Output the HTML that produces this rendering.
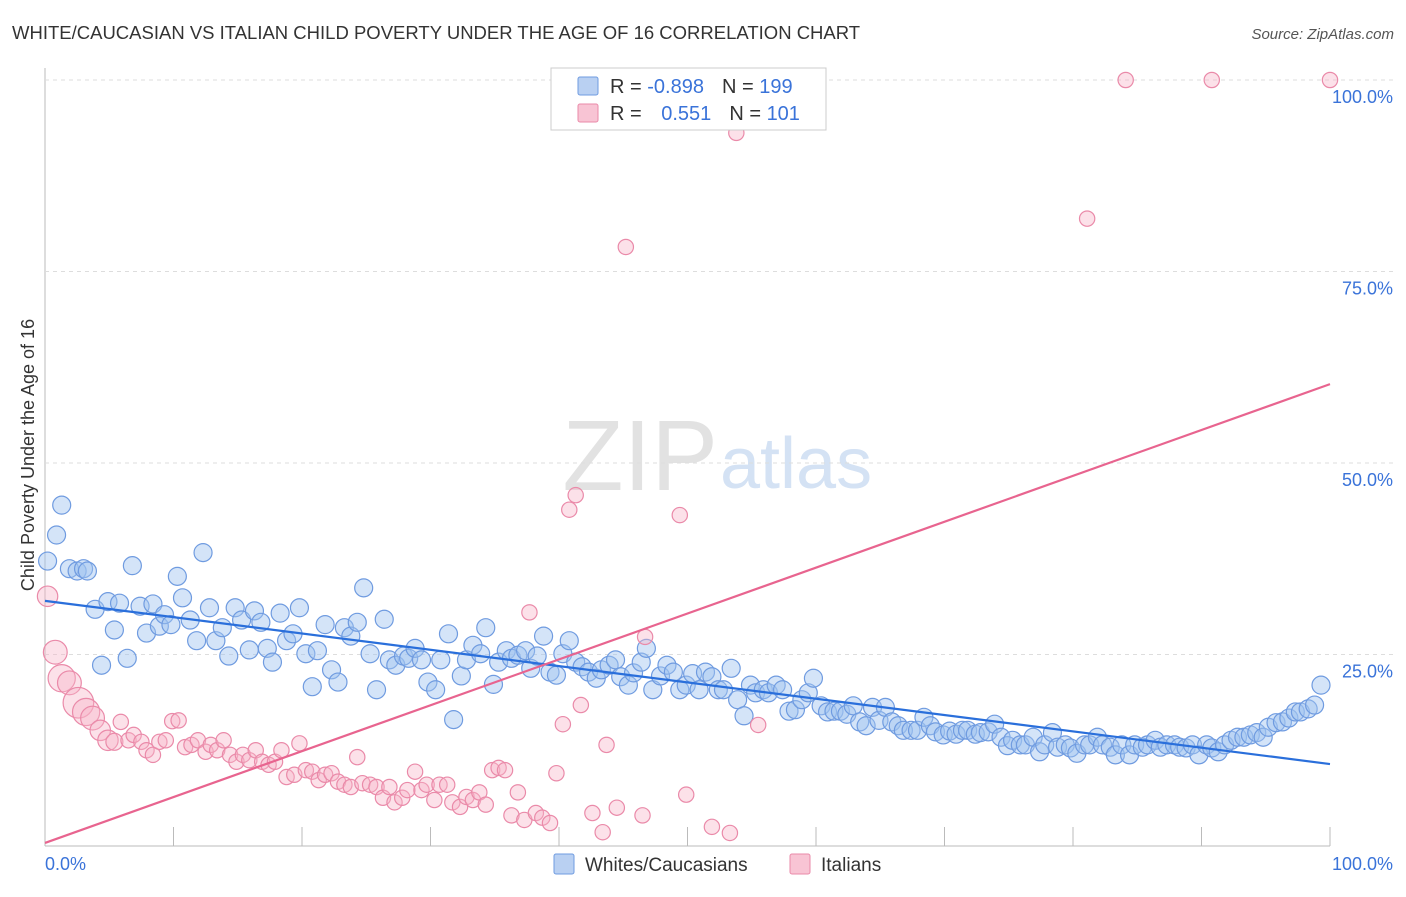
<!DOCTYPE html>
<html><head><meta charset="utf-8"><style>
body{margin:0;background:#fff;font-family:"Liberation Sans",sans-serif}
svg text{font-family:"Liberation Sans",sans-serif}
</style></head><body>
<svg id="c" width="1406" height="892" viewBox="0 0 1406 892">
<text x="12" y="39" font-size="18.5" fill="#333">WHITE/CAUCASIAN VS ITALIAN CHILD POVERTY UNDER THE AGE OF 16 CORRELATION CHART</text>
<text x="1394" y="39" font-size="15" fill="#555" font-style="italic" text-anchor="end">Source: ZipAtlas.com</text>
<text x="718" y="490" font-size="100" fill="#e2e2e2" text-anchor="end" font-family="Liberation Serif">ZIP</text>
<text x="720" y="488" font-size="72" fill="#d4e2f4">atlas</text>
<text transform="translate(34,455) rotate(-90)" font-size="18" fill="#333" text-anchor="middle">Child Poverty Under the Age of 16</text>
<g id="grid"></g><g id="marks"></g><g id="lines"></g>
<g>
<rect x="551" y="68" width="275" height="62" fill="#fff" stroke="#ccc"/>
<rect x="578" y="77" width="20" height="18" fill="#b9d0f2" stroke="#6f9be0" rx="2"/>
<rect x="578" y="104" width="20" height="18" fill="#f8c4d4" stroke="#ea8aa9" rx="2"/>
<text x="610" y="93" font-size="20" fill="#333">R = <tspan fill="#3a73d9">-0.898</tspan><tspan dx="18">N = </tspan><tspan fill="#3a73d9">199</tspan></text>
<text x="610" y="120" font-size="20" fill="#333">R = <tspan dx="14" fill="#3a73d9">0.551</tspan><tspan dx="18">N = </tspan><tspan fill="#3a73d9">101</tspan></text>
</g>
<g>
<rect x="554" y="854" width="20" height="20" fill="#b9d0f2" stroke="#6f9be0" rx="2"/>
<text x="585" y="871" font-size="19" fill="#333">Whites/Caucasians</text>
<rect x="790" y="854" width="20" height="20" fill="#f8c4d4" stroke="#ea8aa9" rx="2"/>
<text x="821" y="871" font-size="19" fill="#333">Italians</text>
</g>
</svg>
<script>
const xTickLabels=["0.0%","100.0%"];
const yTicks=[25,50,75,100];
const yTickLabels=["25.0%","50.0%","75.0%","100.0%"];
const blueX=[0.2,1.3,0.9,1.9,2.5,3.0,3.3,3.9,4.4,4.9,5.4,5.8,6.4,6.8,7.4,7.9,8.4,8.9,9.3,9.8,10.3,10.7,11.3,11.8,12.3,12.8,13.3,13.8,14.3,14.8,15.3,15.9,16.3,16.8,17.3,17.7,18.3,18.8,19.3,19.8,20.3,20.8,21.2,21.8,22.3,22.8,23.3,23.8,24.3,24.8,25.3,25.8,26.4,26.8,27.3,27.9,28.3,28.8,29.3,29.8,30.4,30.8,31.4,31.8,32.4,32.8,33.3,33.9,34.3,34.9,35.3,35.9,36.3,36.8,37.4,37.8,38.3,38.8,39.3,39.8,40.3,40.8,41.3,41.8,42.3,42.9,43.3,43.9,44.4,44.8,45.4,45.8,46.4,46.8,47.3,47.9,48.4,48.9,49.4,49.9,50.4,50.9,51.4,51.9,52.4,52.8,53.4,53.9,54.4,54.9,55.3,55.9,56.3,56.9,57.4,57.9,58.4,58.9,59.4,59.8,60.4,60.9,61.4,61.9,62.4,62.9,63.4,63.9,64.4,64.9,65.4,65.9,66.4,66.8,67.4,67.9,68.4,68.9,69.3,69.9,70.4,70.9,71.4,71.8,72.4,72.8,73.4,73.9,74.4,74.9,75.3,75.9,76.3,76.9,77.4,77.8,78.4,78.8,79.4,79.8,80.3,80.9,81.3,81.9,82.3,82.9,83.3,83.8,84.4,84.8,85.4,85.8,86.4,86.8,87.3,87.9,88.3,88.8,89.3,89.8,90.4,90.8,91.3,91.8,92.3,92.8,93.3,93.8,94.3,94.8,95.2,95.8,96.3,96.8,97.3,97.7,98.3,98.8,99.3];
const blueY=[37.2,44.5,40.6,36.2,35.9,36.2,35.9,30.9,23.6,31.9,28.2,31.7,24.5,36.6,31.3,27.8,31.6,28.7,30.2,28.9,35.2,32.4,29.5,26.8,38.3,31.1,26.8,28.5,24.8,31.1,29.5,25.6,30.7,29.2,25.8,24.0,30.4,26.8,27.7,31.1,25.1,20.8,25.5,28.9,23.0,21.4,28.5,27.4,29.2,33.7,25.1,20.4,29.6,24.3,23.6,24.8,24.5,25.8,24.3,21.4,20.4,24.3,27.7,16.5,22.2,24.3,26.2,25.1,28.5,21.1,24.0,25.5,24.5,24.9,25.5,23.2,24.8,27.4,22.7,22.3,25.1,26.8,24.0,23.4,22.7,21.9,23.0,23.6,24.3,22.1,21.0,22.6,24.0,25.8,20.4,22.2,23.6,22.7,20.4,21.0,22.5,20.4,22.7,22.1,20.4,20.4,23.2,19.1,17.0,21.0,20.0,20.4,20.0,21.0,20.4,17.6,17.8,19.1,20.0,21.9,18.3,17.5,17.6,17.6,17.2,18.3,16.2,15.7,18.1,16.4,18.1,16.2,15.7,15.1,15.1,15.1,16.8,15.7,14.9,14.5,15.0,14.6,15.1,15.1,14.6,14.8,14.9,15.9,14.2,13.1,13.8,13.2,13.2,14.2,12.3,13.2,14.8,12.9,13.2,12.8,12.1,13.2,13.2,14.2,13.2,12.9,11.9,13.2,11.9,13.2,12.9,13.2,13.8,12.9,13.2,13.2,12.9,12.8,13.2,11.9,13.2,12.8,12.3,13.2,13.8,14.2,14.2,14.5,14.8,14.2,15.5,16.1,16.2,16.7,17.5,17.5,17.9,18.4,21.0];
const pinkX=[0.2,0.8,1.3,1.9,2.6,3.2,3.7,4.3,4.9,5.4,5.9,6.5,6.9,7.5,7.9,8.4,8.9,9.4,9.9,10.4,10.9,11.4,11.9,12.5,12.9,13.4,13.9,14.4,14.9,15.4,15.9,16.4,16.9,17.4,17.9,18.4,18.8,19.4,19.8,20.3,20.8,21.3,21.8,22.3,22.8,23.3,23.8,24.3,24.7,25.3,25.8,26.3,26.8,27.2,27.8,28.2,28.8,29.3,29.7,30.3,30.7,31.3,31.7,32.3,32.8,33.3,33.8,34.3,34.8,35.3,35.8,36.3,36.8,37.3,37.7,38.2,38.7,39.3,39.8,40.3,40.8,41.3,41.7,42.6,43.4,43.7,44.5,45.2,46.5,46.7,49.4,49.9,51.9,53.3,53.8,55.5,81.1,84.1,90.8,100];
const pinkY=[32.6,25.3,21.9,21.3,18.7,17.5,16.7,15.1,13.8,13.6,16.2,13.8,14.5,13.6,12.5,11.9,13.6,13.8,16.3,16.4,12.9,13.2,13.8,12.3,13.2,12.5,13.8,11.9,11.0,11.9,11.2,12.5,11.0,10.6,11.0,12.5,9.0,9.3,13.4,9.9,9.7,8.6,9.3,9.5,8.4,8.0,7.7,11.6,8.2,8.0,7.7,6.3,7.7,5.7,6.3,7.3,9.7,7.3,8.0,6.0,8.0,8.0,5.7,5.1,6.4,6.0,7.0,5.4,9.9,10.2,9.9,4.0,7.0,3.4,30.5,4.3,3.7,3.0,9.5,15.9,43.9,45.8,18.4,4.3,1.8,13.2,5.0,78.2,4.0,27.3,43.2,6.7,2.5,1.7,93.1,15.8,81.9,100,100,100];
const pinkWeight=[12,14,16,14,18,16,14,12,12,10,9,9,9,9,9,9,9,9,9,9,9,9,9,9,9,9,9,9,9,9,9,9,9,9,9,9,9,9,9,9,9,9,9,9,9,9,9,9,9,9,9,9,9,9,9,9,9,9,9,9,9,9,9,9,9,9,9,9,9,9,9,9,9,9,9,9,9,9,9,9,9,9,9,9,9,9,9,9,9,9,9,9,9,9,9,9,9,9,9,9];
const blueFit=[32.0,10.7];
const pinkFit=[0.4,60.3];
const NS="http://www.w3.org/2000/svg";
const X0=45,X1=1330,Y0=846,Y100=80;
const sx=v=>X0+(X1-X0)*v/100;
const sy=v=>Y0-(Y0-Y100)*v/100;
function mk(tag,attrs,parent){const e=document.createElementNS(NS,tag);for(const k in attrs)e.setAttribute(k,attrs[k]);parent.appendChild(e);return e;}
const grid=document.getElementById('grid'),marks=document.getElementById('marks'),lines=document.getElementById('lines');
let ax=mk('line',{x1:X0,x2:X0,y1:68,y2:Y0,stroke:'#bbb'},grid);


let bx=mk('line',{x1:X0,x2:X1,y1:Y0,y2:Y0,stroke:'#bbb'},grid);


yTicks.forEach((t,i)=>{
 const g=mk('line',{x1:X0,x2:1394,y1:sy(t),y2:sy(t),stroke:'#ddd','stroke-dasharray':'4,4'},grid);
 
 
 const tx=mk('text',{x:1393,y:sy(t)+23,'font-size':18,fill:'#3a73d9','text-anchor':'end'},grid);
 tx.textContent=yTickLabels[i];
 
 
});
for(let i=1;i<=10;i++){
 const t=mk('line',{x1:sx(i*10),x2:sx(i*10),y1:827,y2:Y0,stroke:'#bbb'},grid);
 
 
}
[[0,'start',45],[100,'end',1393]].forEach((d,i)=>{
 const tx=mk('text',{x:d[2],y:870,'font-size':18,fill:'#3a73d9','text-anchor':d[1]},grid);
 tx.textContent=xTickLabels[i];
 
 
});
blueX.forEach((x,i)=>{
 const c=mk('circle',{cx:sx(x),cy:sy(blueY[i]),r:9,fill:'rgba(160,195,240,0.45)',stroke:'#6f9be0','stroke-width':1.2},marks);
 
 
});
pinkX.forEach((x,i)=>{
 const c=mk('circle',{cx:sx(x),cy:sy(pinkY[i]),r:pinkWeight[i]*0.85,fill:'rgba(248,180,200,0.4)',stroke:'#ea8aa9','stroke-width':1.2},marks);
 
 
});
const bl=mk('line',{x1:sx(0),y1:sy(blueFit[0]),x2:sx(100),y2:sy(blueFit[1]),stroke:'#2a6fdb','stroke-width':2.2},lines);


const pl=mk('line',{x1:sx(0),y1:sy(pinkFit[0]),x2:sx(100),y2:sy(pinkFit[1]),stroke:'#e8648f','stroke-width':2.2},lines);


</script>
</body></html>
